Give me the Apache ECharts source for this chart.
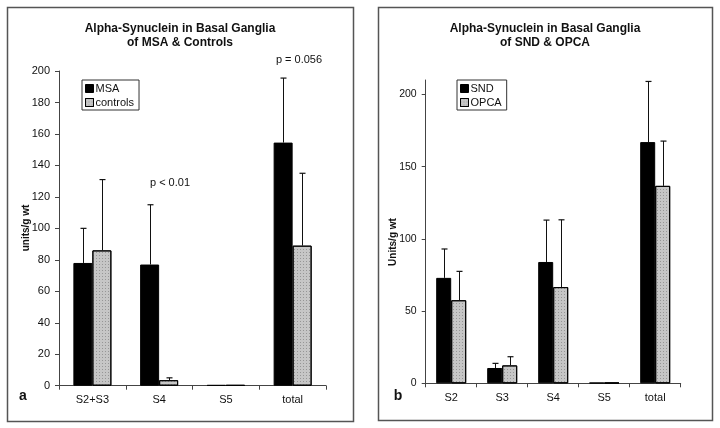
<!DOCTYPE html>
<html>
<head>
<meta charset="utf-8">
<script src="https://cdn.jsdelivr.net/npm/echarts@6/dist/echarts.min.js"></script>
<style>
  html, body { margin: 0; padding: 0; background: #fff; }
  #chart { width: 720px; height: 428px; }
</style>
</head>
<body>
<div id="chart"></div>
<script>
// panel a: MSA vs controls
const catsA = ['S2+S3', 'S4', 'S5', 'total']
const msa = [78, 77, 0.4, 154.5]
const msaSd = [22, 38, 0, 41]
const controls = [86, 3.5, 0.4, 89]
const controlsSd = [45, 1.5, 0, 46]
const ticksA = [0, 20, 40, 60, 80, 100, 120, 140, 160, 180, 200]

// panel b: SND vs OPCA
const catsB = ['S2', 'S3', 'S4', 'S5', 'total']
const snd = [73, 10.6, 84, 0.4, 167]
const sndSd = [20, 3.2, 29, 0, 42]
const opca = [57.5, 12.4, 66.6, 0.4, 136.7]
const opcaSd = [20, 6, 46.6, 0, 31]
const ticksB = [0, 50, 100, 150, 200]

const FONT = 'Liberation Sans, Arial, sans-serif'
const GREY = '#c6c6c6'
const greyDecal = {
  symbol: 'rect',
  symbolSize: 1,
  color: 'rgba(90,90,90,0.45)',
  dashArrayX: [1, 2],
  dashArrayY: [1, 2],
  rotation: 0
}

function errData(vals, sds) {
  return vals.map((v, i) => [i, v, sds[i]])
}

// error bar (upper whisker only) drawn at the centre of one bar of the pair
function errSeries(name, idx, vals, sds, side, barW) {
  return {
    name: name,
    type: 'custom',
    xAxisIndex: idx,
    yAxisIndex: idx,
    z: 5,
    data: errData(vals, sds),
    encode: { x: 0, y: 1 },
    renderItem(params, api) {
      const sd = api.value(2)
      if (!sd) return null
      const base = api.coord([api.value(0), api.value(1)])
      const top = api.coord([api.value(0), api.value(1) + sd])
      const x = Math.round(base[0] + side * barW / 2) + 0.5
      const cap = 3
      return {
        type: 'group',
        children: [
          { type: 'line', shape: { x1: x, y1: base[1], x2: x, y2: top[1] }, style: { stroke: '#111', lineWidth: 1 } },
          { type: 'line', shape: { x1: x - cap, y1: top[1], x2: x + cap, y2: top[1] }, style: { stroke: '#111', lineWidth: 1.2 } }
        ]
      }
    }
  }
}

function catAxis(idx, cats) {
  return {
    type: 'category',
    gridIndex: idx,
    data: cats,
    axisLine: { lineStyle: { color: '#444', width: 1 } },
    axisTick: { show: true, length: 4, lineStyle: { color: '#444' } },
    axisLabel: { color: '#111', fontFamily: FONT, fontSize: 11, margin: 9 }
  }
}

function valAxis(idx, max, ticks) {
  return {
    type: 'value',
    gridIndex: idx,
    min: 0,
    max: max,
    splitLine: { show: false },
    axisLine: { show: true, lineStyle: { color: '#444', width: 1 } },
    axisTick: { show: true, length: 4, lineStyle: { color: '#444' }, customValues: ticks },
    axisLabel: { color: '#111', fontFamily: FONT, fontSize: idx === 0 ? 11 : 10.5, margin: 9, customValues: ticks }
  }
}

function barSeries(name, idx, vals, color, barW, decal) {
  return {
    name: name,
    type: 'bar',
    xAxisIndex: idx,
    yAxisIndex: idx,
    data: vals,
    barWidth: barW,
    barGap: '0%',
    itemStyle: { color: color, borderColor: '#000', borderWidth: 1, decal: decal },
    emphasis: { disabled: true }
  }
}

function legendBox(left, top, names) {
  return {
    orient: 'vertical',
    left: left,
    top: top,
    data: names,
    padding: [3, 5, 2, 3],
    itemGap: 3,
    itemWidth: 8,
    itemHeight: 8,
    icon: 'rect',
    borderColor: '#333',
    borderWidth: 1,
    borderRadius: 0,
    selectedMode: false,
    itemStyle: { borderColor: '#000', borderWidth: 1 },
    textStyle: { color: '#111', fontFamily: FONT, fontSize: 11, padding: [0, 0, 0, -3] }
  }
}

function txt(x, y, text, opts) {
  return Object.assign({
    type: 'text',
    x: x,
    y: y,
    style: Object.assign({
      text: text,
      fill: '#111',
      font: '11px ' + FONT,
      align: 'center',
      verticalAlign: 'middle'
    }, (opts && opts.style) || {})
  }, (opts && opts.el) || {})
}

const BW_A = 19
const BW_B = 15

const chart = echarts.init(document.getElementById('chart'), null, { renderer: 'canvas' })
chart.setOption({
  animation: false,
  backgroundColor: '#fff',
  grid: [
    { left: 59, right: 394, top: 71, bottom: 42.3 },
    { left: 425.7, right: 39.3, top: 80, bottom: 44.7 }
  ],
  xAxis: [catAxis(0, catsA), catAxis(1, catsB)],
  yAxis: [valAxis(0, 200, ticksA), valAxis(1, 210, ticksB)],
  legend: [
    legendBox(82, 80, ['MSA', 'controls']),
    legendBox(457, 80, ['SND', 'OPCA'])
  ],
  series: [
    barSeries('MSA', 0, msa, '#000', BW_A),
    barSeries('controls', 0, controls, GREY, BW_A, greyDecal),
    errSeries('msaErr', 0, msa, msaSd, -1, BW_A),
    errSeries('controlsErr', 0, controls, controlsSd, 1, BW_A),
    barSeries('SND', 1, snd, '#000', BW_B),
    barSeries('OPCA', 1, opca, GREY, BW_B, greyDecal),
    errSeries('sndErr', 1, snd, sndSd, -1, BW_B),
    errSeries('opcaErr', 1, opca, opcaSd, 1, BW_B)
  ],
  graphic: [
    // panel frames
    { type: 'rect', shape: { x: 7.5, y: 7.5, width: 346, height: 414 }, style: { fill: 'none', stroke: '#555', lineWidth: 1.5 }, silent: true },
    { type: 'rect', shape: { x: 378.5, y: 7.5, width: 334, height: 413 }, style: { fill: 'none', stroke: '#555', lineWidth: 1.5 }, silent: true },
    // titles
    txt(180, 36, 'Alpha-Synuclein in Basal Ganglia\nof MSA & Controls', { style: { font: 'bold 12px ' + FONT, lineHeight: 14 } }),
    txt(545, 36, 'Alpha-Synuclein in Basal Ganglia\nof SND & OPCA', { style: { font: 'bold 12px ' + FONT, lineHeight: 14 } }),
    // p values
    txt(299, 60, 'p = 0.056'),
    txt(170, 183, 'p < 0.01'),
    // y axis names
    txt(26, 228, 'units/g wt', { style: { font: 'bold 10px ' + FONT }, el: { rotation: Math.PI / 2 } }),
    txt(393, 242, 'Units/g wt', { style: { font: 'bold 10px ' + FONT }, el: { rotation: Math.PI / 2 } }),
    // panel letters
    txt(23, 396, 'a', { style: { font: 'bold 14px ' + FONT } }),
    txt(398, 396, 'b', { style: { font: 'bold 14px ' + FONT } })
  ]
})
</script>
</body>
</html>
